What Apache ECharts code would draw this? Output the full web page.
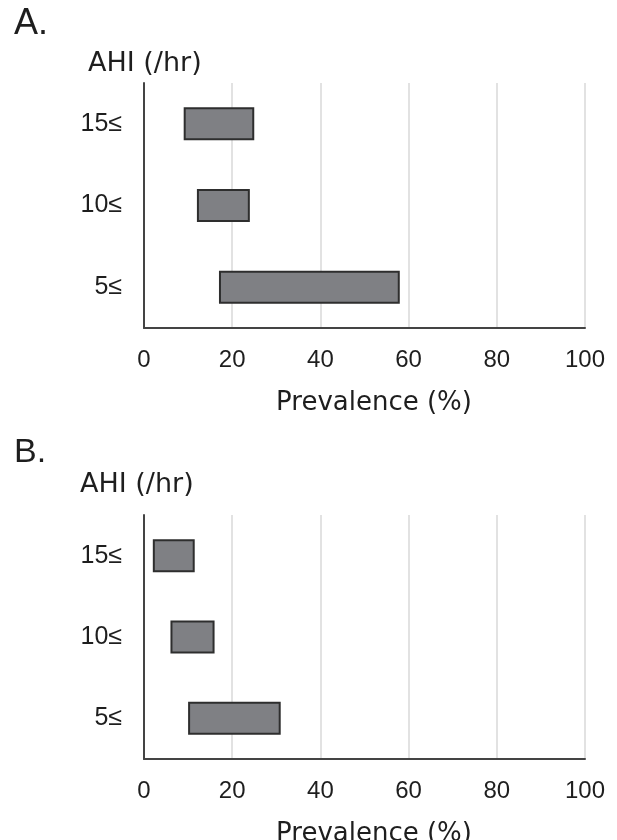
<!DOCTYPE html>
<html>
<head>
<meta charset="utf-8">
<style>html,body{margin:0;padding:0;background:#fff;}#c{width:617px;height:840px;}</style>
<script src="https://cdn.jsdelivr.net/npm/echarts@6/dist/echarts.min.js"></script>
</head>
<body>
<div id="c"></div>
<script>
var categories = ['5≤', '10≤', '15≤'];
var xTicks = [0, 20, 40, 60, 80, 100];
// Panel A: prevalence range (low, high) per AHI threshold
var lowA = [17, 12, 9];
var highA = [58, 24, 25];
// Panel B
var lowB = [10, 6, 2];
var highB = [31, 16, 11.5];

var chart = echarts.init(document.getElementById('c'), null, {renderer: 'canvas'});

function diff(lo, hi) { return hi.map(function (v, i) { return v - lo[i]; }); }

var tickFont = 'Liberation Sans';

function xAxis(idx) {
  return {
    gridIndex: idx, type: 'value', min: 0, max: 100, interval: 20,
    axisLine: {show: true, onZero: false, lineStyle: {color: '#444', width: 2}},
    axisTick: {show: false},
    splitLine: {show: true, lineStyle: {color: '#d9d9d9', width: 1.5}},
    axisLabel: {color: '#1e1e1e', fontSize: 24, fontFamily: tickFont, margin: 20,
      formatter: function (v) { return xTicks.indexOf(v) >= 0 ? String(v) : ''; }}
  };
}
function yAxis(idx) {
  return {
    gridIndex: idx, type: 'category', data: categories,
    axisLine: {show: true, lineStyle: {color: '#444', width: 2}},
    axisTick: {show: false},
    axisLabel: {color: '#1e1e1e', fontSize: 25, fontFamily: tickFont, margin: 22}
  };
}
var barStyle = {color: '#7f8084', borderColor: '#2e2e2e', borderWidth: 2};

var option = {
  animation: false,
  backgroundColor: '#fff',
  grid: [
    {left: 144, right: 32, top: 83, height: 245},
    {left: 144, right: 32, top: 515, height: 244}
  ],
  xAxis: [xAxis(0), xAxis(1)],
  yAxis: [yAxis(0), yAxis(1)],
  series: [
    {type: 'bar', xAxisIndex: 0, yAxisIndex: 0, stack: 'a', data: lowA, barWidth: 33,
      itemStyle: {color: 'transparent'}, silent: true},
    {type: 'bar', xAxisIndex: 0, yAxisIndex: 0, stack: 'a', data: diff(lowA, highA), barWidth: 33,
      itemStyle: barStyle},
    {type: 'bar', xAxisIndex: 1, yAxisIndex: 1, stack: 'b', data: lowB, barWidth: 33,
      itemStyle: {color: 'transparent'}, silent: true},
    {type: 'bar', xAxisIndex: 1, yAxisIndex: 1, stack: 'b', data: diff(lowB, highB), barWidth: 33,
      itemStyle: barStyle}
  ],
  graphic: [
    {type: 'text', left: 14, top: 6, style: {text: 'A.', font: '36px "Liberation Sans"', fill: '#1e1e1e'}},
    {type: 'text', left: 88, top: 50, style: {text: 'AHI (/hr)', font: '27px "DejaVu Sans"', fill: '#1e1e1e'}},
    {type: 'text', x: 374, y: 403, style: {text: 'Prevalence (%)', font: '26px "DejaVu Sans"', fill: '#1e1e1e', align: 'center', verticalAlign: 'middle'}},
    {type: 'text', left: 14, top: 436, style: {text: 'B.', font: '34px "Liberation Sans"', fill: '#1e1e1e'}},
    {type: 'text', left: 80, top: 471, style: {text: 'AHI (/hr)', font: '27px "DejaVu Sans"', fill: '#1e1e1e'}},
    {type: 'text', x: 374, y: 834, style: {text: 'Prevalence (%)', font: '26px "DejaVu Sans"', fill: '#1e1e1e', align: 'center', verticalAlign: 'middle'}}
  ]
};
chart.setOption(option);
</script>
</body>
</html>
